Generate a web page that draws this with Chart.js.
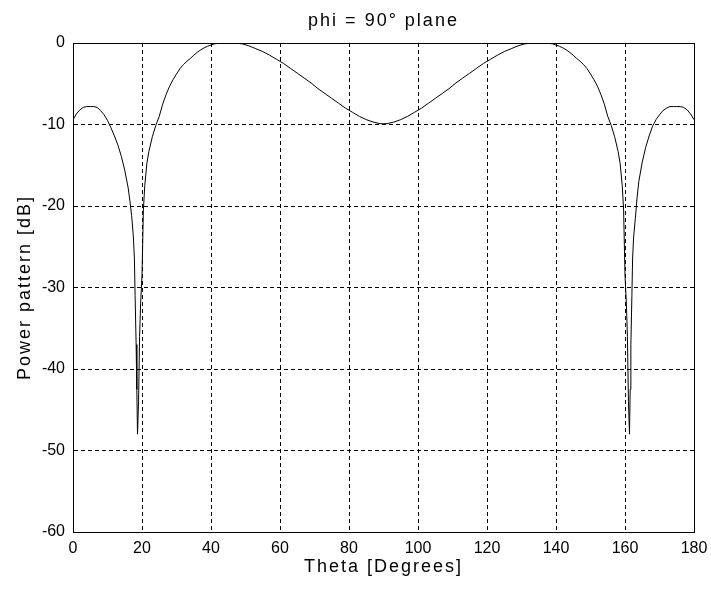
<!DOCTYPE html>
<html>
<head>
<meta charset="utf-8">
<title>phi = 90° plane</title>
<script src="https://cdn.jsdelivr.net/npm/chart.js@4/dist/chart.umd.min.js"></script>
<style>
  html, body { margin: 0; padding: 0; background: #fff; }
  canvas { display: block; }
</style>
</head>
<body>
<canvas id="pattern" width="711" height="589"></canvas>
<script>
// Elevation angle (degrees)
const theta = [
  0, 1, 2, 3, 4, 5, 6, 7, 8, 9, 10, 11, 12, 13, 14, 15, 16, 16.5, 17, 17.5, 17.8,
  18, 18.3, 18.5, 18.7, 19, 19.3, 19.6, 20, 20.4, 20.8, 21.4, 22, 23, 24, 25,
  26, 27, 28, 29, 30, 31, 32, 33, 34, 35, 36, 37, 38, 39, 40, 41, 43, 45, 47, 49,
  51, 53, 55, 57, 59, 61, 63, 65, 67, 69, 71, 73, 75, 77, 79, 81, 83, 85, 87, 89, 90,
  91, 93, 95, 97, 99, 101, 103, 105, 107, 109, 111, 113, 115, 117, 119, 121, 123,
  125, 127, 129, 131, 133, 135, 137, 139, 140, 141, 142, 143, 144, 145, 146, 147,
  148, 149, 150, 151, 152, 153, 154, 155, 156, 157, 158, 158.6, 159.2, 159.6, 160,
  160.4, 160.7, 161, 161.3, 161.5, 161.7, 162, 162.2, 162.5, 163, 163.5, 164, 165,
  166, 167, 168, 169, 170, 171, 172, 173, 174, 175, 176, 177, 178, 179, 180
];

// Normalised power pattern (dB)
const powerDb = [
  -9.4, -8.7, -8.2, -7.9, -7.8, -7.8, -7.8, -7.9, -8.3, -8.8, -9.5, -10.4, -11.4, -12.5, -13.9, -15.6, -17.8, -19.4, -21.2, -23.8, -26.5,
  -31, -37, -42.5, -48, -44, -36, -32, -28.5, -20.5, -17.5, -14.8, -13.3, -11.5, -10.1, -9.0,
  -7.5, -6.3, -5.3, -4.5, -3.8, -3.15, -2.65, -2.25, -1.9, -1.5, -1.15, -0.85, -0.6, -0.4, -0.25, -0.1, -0.02, 0, -0.02, -0.1,
  -0.35, -0.7, -1.05, -1.5, -2.0, -2.5, -3.1, -3.7, -4.3, -4.9, -5.6, -6.2, -6.8, -7.4, -8.0, -8.5, -9.0, -9.4, -9.7, -9.9, -9.9,
  -9.9, -9.7, -9.4, -9.0, -8.5, -8.0, -7.4, -6.8, -6.2, -5.6, -4.9, -4.3, -3.7, -3.1, -2.5, -2.0, -1.5,
  -1.05, -0.7, -0.35, -0.1, -0.02, 0, -0.02, -0.1, -0.25, -0.4, -0.6, -0.85, -1.15, -1.5, -1.9, -2.25,
  -2.65, -3.15, -3.8, -4.5, -5.3, -6.3, -7.5, -9.0, -10.1, -11.5, -13.3, -14.8, -17.5, -20.5, -28.5,
  -32, -36, -44, -48, -42.5, -37, -31, -26.5, -23.8, -21.5, -19.0, -17.0, -14.6,
  -12.8, -11.4, -10.2, -9.4, -8.8, -8.3, -8.0, -7.8, -7.8, -7.8, -7.8, -7.9, -8.2, -8.7, -9.4
];

// Axis ticks
const thetaTicks = [0, 20, 40, 60, 80, 100, 120, 140, 160, 180];
const dbTicks = [-60, -50, -40, -30, -20, -10, 0];

const labelFont = "'Liberation Sans', Arial, Helvetica, sans-serif";

// Dashed grid inside the box, solid lines on the box edges
const gridDash = (c) => {
  if (c.type !== 'tick' || !c.tick) return [];
  const v = c.tick.value;
  return (v === c.scale.min || v === c.scale.max) ? [] : [4, 3];
};

// Wider text spacing for the titles; tick labels (drawn after the curve) use none
const textSpacing = {
  id: 'textSpacing',
  beforeDraw(chart) { chart.ctx.letterSpacing = '2px'; },
  afterDatasetsDraw(chart) { chart.ctx.letterSpacing = '0px'; }
};

const points = theta.map((t, i) => ({ x: t, y: powerDb[i] }));

new Chart(document.getElementById('pattern'), {
  type: 'line',
  data: {
    datasets: [{
      data: points,
      borderColor: '#000',
      borderWidth: 1,
      pointRadius: 0,
      tension: 0,
      fill: false
    }]
  },
  options: {
    responsive: false,
    animation: false,
    devicePixelRatio: 1,
    layout: { padding: { left: 0, right: 17, top: 0, bottom: 0 } },
    plugins: {
      legend: { display: false },
      tooltip: { enabled: false },
      title: {
        display: true,
        text: 'phi = 90° plane',
        fullSize: false,
        color: '#000',
        font: { family: labelFont, size: 18, weight: 'normal' },
        padding: { top: 10, bottom: 11.4 }
      }
    },
    scales: {
      x: {
        type: 'linear',
        min: thetaTicks[0],
        max: thetaTicks[thetaTicks.length - 1],
        afterBuildTicks: (s) => { s.ticks = thetaTicks.map(v => ({ value: v })); },
        afterFit: (s) => { s.height = 57; s.paddingLeft = 0; s.paddingRight = 0; },
        ticks: {
          color: '#000',
          padding: 7,
          z: 1,
          maxRotation: 0,
          autoSkip: false,
          font: { family: labelFont, size: 16 }
        },
        grid: { color: '#000', lineWidth: 1, drawTicks: false },
        border: { display: true, color: '#000', width: 1, dash: gridDash },
        title: {
          display: true,
          text: 'Theta [Degrees]',
          color: '#000',
          font: { family: labelFont, size: 18, weight: 'normal' },
          padding: { top: 0, bottom: 11.4 }
        }
      },
      y: {
        type: 'linear',
        min: dbTicks[0],
        max: dbTicks[dbTicks.length - 1],
        afterBuildTicks: (s) => { s.ticks = dbTicks.map(v => ({ value: v })); },
        afterFit: (s) => { s.width = 73; s.paddingTop = 0; s.paddingBottom = 0; },
        ticks: {
          color: '#000',
          padding: 8,
          z: 1,
          autoSkip: false,
          font: { family: labelFont, size: 16 }
        },
        grid: { color: '#000', lineWidth: 1, drawTicks: false },
        border: { display: true, color: '#000', width: 1, dash: gridDash },
        title: {
          display: true,
          text: 'Power pattern [dB]',
          color: '#000',
          font: { family: labelFont, size: 18, weight: 'normal' },
          padding: { top: 14, bottom: 0 }
        }
      }
    }
  },
  plugins: [textSpacing]
});
</script>
</body>
</html>
